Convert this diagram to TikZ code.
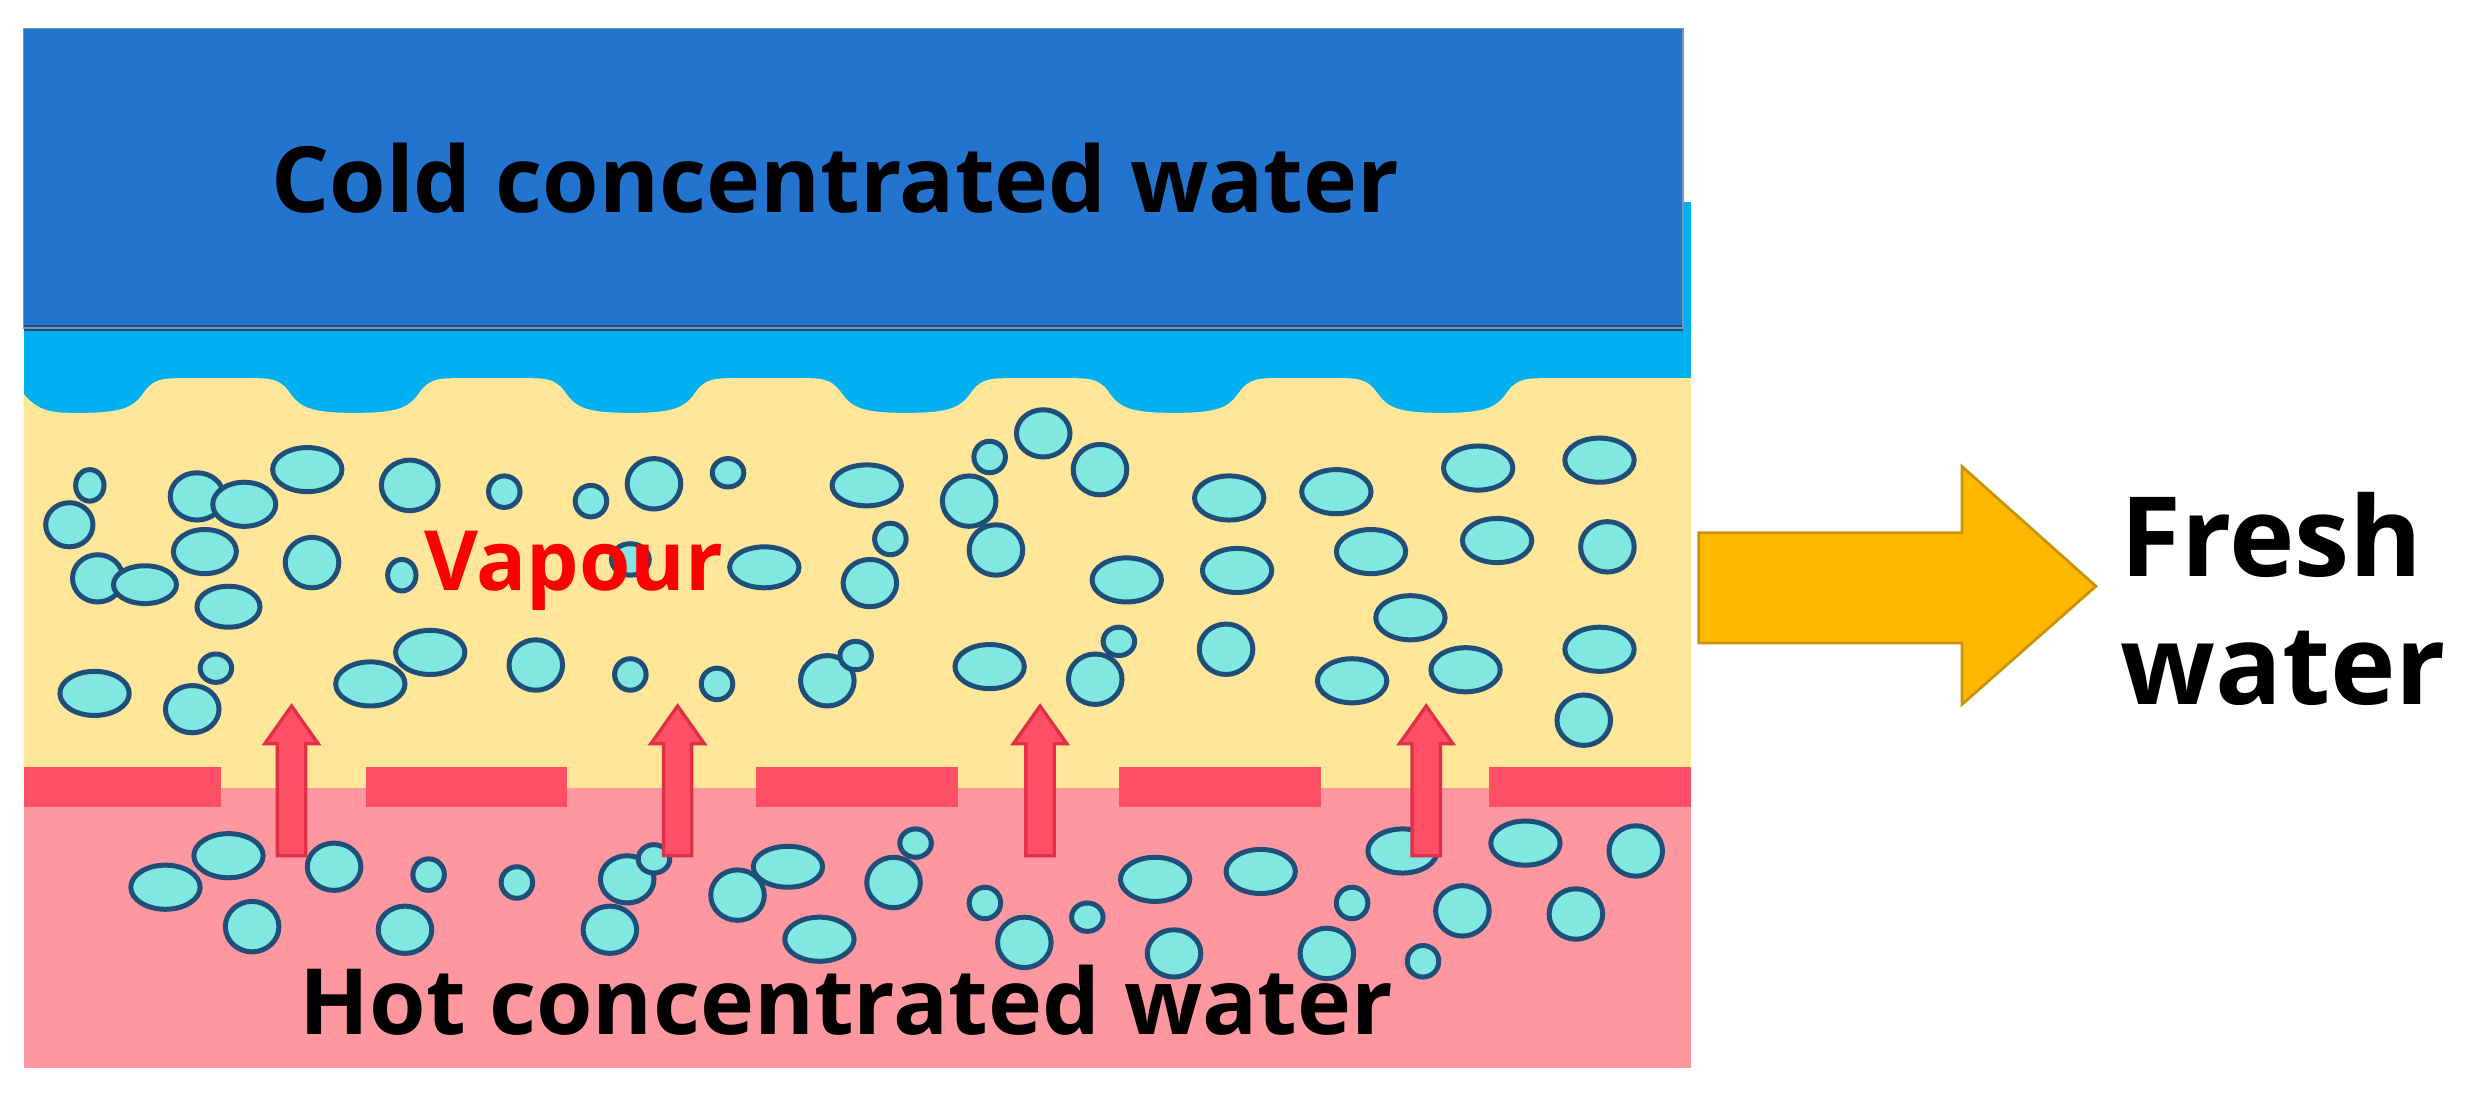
\documentclass[tikz,border=0pt]{standalone}
\usepackage{fontspec}
\setmainfont{Open Sans}
\begin{document}
\begin{tikzpicture}[x=0.01cm,y=-0.01cm,
  bub/.style={fill=bubf,draw=bubd,line width=0.9pt},
  uparr/.style={fill=redm,draw=redd,line width=0.6pt},
  lbl/.style={font=\fontsize{16.5}{19}\selectfont\bfseries,text=black}]
\definecolor{coldb}{HTML}{2274CF}
\definecolor{lightb}{HTML}{00B0F0}
\definecolor{yel}{HTML}{FFE699}
\definecolor{pinkr}{HTML}{FF97A0}
\definecolor{redm}{HTML}{FF4F64}
\definecolor{redd}{HTML}{E03048}
\definecolor{bubf}{HTML}{80E8E0}
\definecolor{bubd}{HTML}{1F4E79}
\definecolor{orng}{HTML}{FFB800}
\useasboundingbox (0,0) rectangle (1568,703);
% regions
\fill[lightb] (1060,128) rectangle (1073,208);
\fill[lightb] (15,205) rectangle (1073,270);
\fill[yel] (15,250) .. controls (25,262) and (35,262) .. (50,262)
  \foreach \d/\n in {50/225,225/400,400/575,575/745,745/915}{
    .. controls (\d+30,262) and (\d+35,258) .. (\d+42,248)
    .. controls (\d+48,240) and (\d+55,240) .. (\d+65,240)
    -- (\n-65,240)
    .. controls (\n-55,240) and (\n-48,240) .. (\n-42,248)
    .. controls (\n-35,258) and (\n-30,262) .. (\n,262)}
  .. controls (945,262) and (950,258) .. (957,248)
  .. controls (963,240) and (970,240) .. (980,240) -- (1073,240)
  -- (1073,500) -- (15,500) -- cycle;
\fill[coldb] (15,18) rectangle (1068,208);
\draw[bubd,line width=1pt] (15,208) -- (1068,208);
\draw[bubd!60,line width=0.3pt] (15,18) rectangle (1068,208);
\node[lbl] (cold) at (530,113) {Cold concentrated water};
\fill[pinkr] (15,500) rectangle (1073,678);
\foreach \a/\b in {15/140,232/360,480/608,710/838,945/1073}{
  \fill[redm] (\a,487) rectangle (\b,512);}
% bubbles
\foreach \x/\y/\rx/\ry in {57/308/9/10,44/333/15/14,125/315/17/15,155/320/20/14,195/298/22/14,260/308/18/16,320/312/10/10,375/318/10/10,415/307/17/16,462/300/10/9,550/308/22/13,628/290/10/10,662/275/17/15,698/298/17/16,615/318/17/16,780/316/22/14,848/312/22/14,938/297/22/14,1015/292/22/14,
130/350/20/14,62/367/16/15,92/371/20/12,145/385/20/13,198/357/17/16,255/365/9/10,400/355/12/10,485/360/22/13,565/342/10/10,552/370/17/15,632/349/17/16,715/368/22/14,785/362/22/14,870/350/22/14,950/343/22/14,1020/347/17/16,
60/440/22/14,122/450/17/15,137/424/10/9,235/434/22/14,273/414/22/14,340/422/17/16,400/428/10/10,455/434/10/10,525/432/17/16,543/416/10/9,628/423/22/14,695/431/17/16,710/407/10/9,778/412/17/16,858/432/22/14,895/392/22/14,930/425/22/14,1015/412/22/14,1005/457/17/16,
105/563/22/14,145/543/22/14,212/550/17/15,160/588/17/16,272/555/10/10,257/590/17/15,328/560/10/10,398/558/17/15,415/545/10/9,387/590/17/15,468/568/17/16,500/550/22/13,520/596/22/14,567/560/17/16,581/535/10/9,625/573/10/10,650/598/17/16,690/582/10/9,733/558/22/14,800/553/22/14,745/605/17/15,842/605/17/16,858/573/10/10,890/540/22/14,928/578/17/16,903/610/10/10,968/535/22/14,1000/580/17/16,1038/540/17/16}{
  \path[bub] (\x,\y) ellipse [x radius=\rx, y radius=\ry];}
\node[font=\fontsize{15}{17}\selectfont\bfseries,text=red] (vap) at (364,362) {Vapour};
% up arrows
\foreach \c in {185,430,660,905}{
  \path[uparr] (\c-9,543) -- (\c-9,472) -- (\c-17,472) -- (\c,448) -- (\c+17,472) -- (\c+9,472) -- (\c+9,543) -- cycle;}
\node[lbl] (hot) at (537,635) {Hot concentrated water};
% big arrow
\path[fill=orng,draw=orng!80!black,line width=0.5pt] (1078,338) -- (1245,338) -- (1245,296) -- (1330,372) -- (1245,447) -- (1245,408) -- (1078,408) -- cycle;
\node[font=\fontsize{20}{23}\selectfont\bfseries,anchor=west,align=left] (fresh) at (1333,380) {Fresh\\water};
\end{tikzpicture}
\end{document}
